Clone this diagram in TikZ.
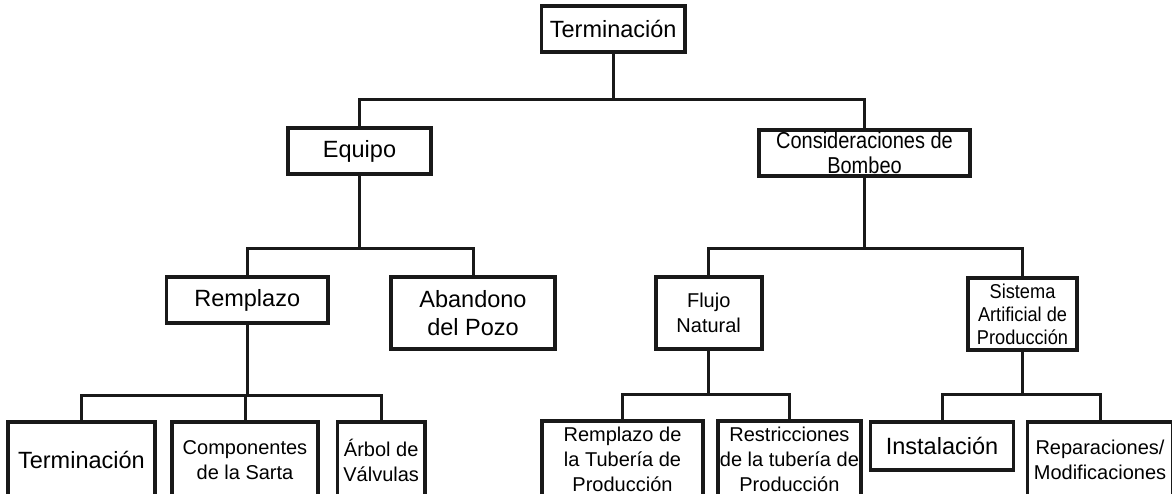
\documentclass[tikz,border=0pt]{standalone}
\usepackage{fontspec}
\setmainfont{Liberation Sans}
\newcommand{\tallA}[1]{\scalebox{1}[1.15]{#1}}
\newcommand{\tallB}[1]{\scalebox{1}[1.1]{#1}}

\begin{document}
\begin{tikzpicture}[x=1pt, y=-1pt,
  box/.style={draw=black!90, line width=3.8pt, fill=white, inner sep=0pt, align=center},
  big/.style={font=\fontsize{23.5}{28.5}\selectfont},
  mid/.style={font=\fontsize{20}{25}\selectfont},
  link/.style={draw=black!90, line width=3pt}]
  \useasboundingbox (0,0) rectangle (1172,494);
  \clip (0,0) rectangle (1172,494);
  \node[box, big, minimum width=143.5, minimum height=46] (term) at (613.2,29) {Terminación};
  \node[box, big, minimum width=143, minimum height=46] (equipo) at (359.5,151) {Equipo};
  \node[box, mid, minimum width=211, minimum height=46] (consid) at (864.5,153) {\tallA{Consideraciones de}\\\tallA{Bombeo}};
  \node[box, big, minimum width=161.5, minimum height=46] (remplazo) at (247.2,300) {Remplazo};
  \node[box, big, minimum width=164, minimum height=72] (abandono) at (473,313) {Abandono\\del Pozo};
  \node[box, mid, minimum width=106, minimum height=72] (flujo) at (708.7,313) {Flujo\\Natural};
  \node[box, font=\fontsize{18.2}{23}\selectfont, minimum width=109, minimum height=72] (sistema) at (1022.5,314) {\tallB{Sistema}\\\tallB{Artificial de}\\\tallB{Producción}};
  \node[box, big, minimum width=147, minimum height=76] (tb) at (81.4,460) {Terminación};
  \node[box, mid, minimum width=146, minimum height=76] (comp) at (245,460) {Componentes\\de la Sarta};
  \node[box, mid, minimum width=87.5, minimum height=76] (arbol) at (381.2,460) {Árbol de\\Válvulas};
  \node[box, mid, minimum width=161, minimum height=76] (rtub) at (622.5,459) {Remplazo de\\la Tubería de\\Producción};
  \node[box, mid, minimum width=143.3, minimum height=76] (restr) at (789.4,459) {Restricciones\\de la tubería de\\Producción};
  \node[box, big, minimum width=143, minimum height=48] (inst) at (942,446) {Instalación};
  \node[box, mid, minimum width=145, minimum height=76] (repar) at (1100,460) {Reparaciones/\\Modificaciones};
  \coordinate (b1) at (613.2,100);
  \coordinate (b2) at (359.5,249);
  \coordinate (b3) at (864.5,249);
  \coordinate (b4) at (247.2,395);
  \coordinate (b5) at (708.7,394);
  \coordinate (b6) at (1022.5,394);
  \draw[link] (term.south) -- (b1);
  \draw[link] (equipo.north) |- (b1) -| (consid.north);
  \draw[link] (equipo.south) -- (b2);
  \draw[link] (remplazo.north) |- (b2) -| (abandono.north);
  \draw[link] (consid.south) -- (b3);
  \draw[link] (flujo.north) |- (b3) -| (sistema.north);
  \draw[link] (remplazo.south) -- (b4);
  \draw[link] (tb.north) |- (b4) -| (arbol.north);
  \draw[link] (comp.north) |- (b4);
  \draw[link] (flujo.south) -- (b5);
  \draw[link] (rtub.north) |- (b5) -| (restr.north);
  \draw[link] (sistema.south) -- (b6);
  \draw[link] (inst.north) |- (b6) -| (repar.north);
\end{tikzpicture}
\end{document}
